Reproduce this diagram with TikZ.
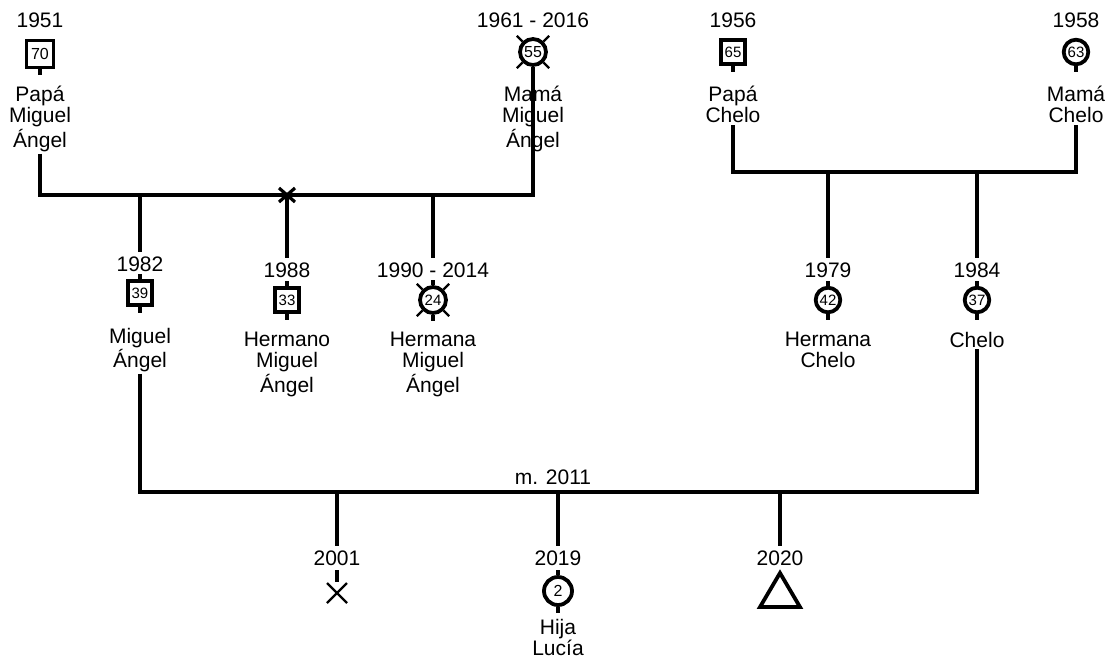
\documentclass[tikz,border=0pt]{standalone}
\usepackage{fontspec}
\setmainfont{Liberation Sans}
\usetikzlibrary{positioning}

\begin{document}
\begin{tikzpicture}[x=0.5pt, y=-0.5pt, line width=1.9pt,
  male/.style={draw, rectangle, fill=white, inner sep=0pt, minimum size=#1, font=\fontsize{7.5}{8}\selectfont},
  male/.default=12.3pt,
  female/.style={draw, circle, fill=white, inner sep=0pt, minimum size=#1, font=\fontsize{7.5}{8}\selectfont},
  female/.default=12.3pt,
  year/.style={font=\fontsize{10.5}{12}\selectfont, inner sep=1.5pt},
  who/.style={anchor=north, align=center, inner sep=0pt, font=\fontsize{10.5}{10.8}\selectfont},
  dead/.style={line width=1.1pt}]

  \useasboundingbox (0,0) rectangle (1109,666);

  % familia de Miguel Angel
  \node[year] (pmaY) at (40,20) {1951};
  \node[male=13.5pt, font=\fontsize{8}{9}\selectfont] (pma) at (40,54) {70};
  \node[who] (pmaN) at (40,84) {Papá\\Miguel\\Ángel};

  \node[year] (mmaY) at (533,20) {1961 - 2016};
  \node[female=13pt, font=\fontsize{8}{9}\selectfont] (mma) at (533,52) {55};

  \coordinate (b1) at (287,195);
  \draw (pmaN.south) -- (pmaN.south |- b1) -- (mma |- b1) -- (mma.south);
  \node[who] (mmaN) at (533,84) {Mamá\\Miguel\\Ángel};
  \draw[line width=1.6pt] (b1) ++(-8,-7) -- ++(16,14) (b1) ++(8,-7) -- ++(-16,14);

  \node[year] (migY) at (140,264) {1982};
  \node[male] (mig) at (140,293) {39};
  \node[who] (migN) at (140,326) {Miguel\\Ángel};
  \draw (migY |- b1) -- (migY.north);

  \node[year] (herY) at (287,270) {1988};
  \node[male] (her) at (287,300) {33};
  \node[who] (herN) at (287,330) {Hermano\\Miguel\\Ángel};
  \draw (b1) -- (herY.north);

  \node[year] (hnaY) at (433,270) {1990 - 2014};
  \node[female=13pt] (hna) at (433,300) {24};
  \node[who] (hnaN) at (433,330) {Hermana\\Miguel\\Ángel};
  \draw (hnaY |- b1) -- (hnaY.north);

  % familia de Chelo
  \node[year] (pchY) at (733,20) {1956};
  \node[male] (pch) at (733,52) {65};
  \node[who] (pchN) at (733,84) {Papá\\Chelo};

  \node[year] (mchY) at (1076,20) {1958};
  \node[female] (mch) at (1076,52) {63};
  \node[who] (mchN) at (1076,84) {Mamá\\Chelo};

  \coordinate (b2) at (828,172);
  \draw (pchN.south) -- (pchN.south |- b2) -- (mchN.south |- b2) -- (mchN.south);

  \node[year] (hchY) at (828,270) {1979};
  \node[female] (hch) at (828,300) {42};
  \node[who] (hchN) at (828,330) {Hermana\\Chelo};
  \draw (b2) -- (hchY.north);

  \node[year] (cheY) at (977,270) {1984};
  \node[female] (che) at (977,300) {37};
  \node[who] (cheN) at (977,330) {Chelo};
  \draw (cheY |- b2) -- (cheY.north);

  % matrimonio e hijos
  \coordinate (b3) at (558,492);
  \draw (migN.south) -- (migN.south |- b3) -- (cheN.south |- b3) -- (cheN.south);
  \node[year, anchor=base] (mar) at (553,484) {m. 2011};

  \node[year] (losY) at (337,558) {2001};
  \draw (losY |- b3) -- (losY.north);
  \coordinate (los) at (337,593);
  \draw (losY.south) -- ++(0,12);
  \draw[dead] (los) ++(-10,-10) -- ++(20,20) (los) ++(10,-10) -- ++(-20,20);

  \node[year] (lucY) at (558,558) {2019};
  \draw (b3) -- (lucY.north);
  \node[female=14pt, font=\fontsize{8}{9}\selectfont] (luc) at (558,591) {2};
  \node[who] (lucN) at (558,617) {Hija\\Lucía};

  \node[year] (triY) at (780,558) {2020};
  \draw (triY |- b3) -- (triY.north);
  \coordinate (tri) at (780,590);
  \draw[line join=miter] (tri) ++(0,-17) -- ++(20,34) -- ++(-40,0) -- cycle;

  % marcas
  \foreach \p in {pma,pch,mch,mig,her,hna,hch,che,luc}
    \draw (\p.south) -- ++(0,6);
  \foreach \p in {mig,her,hna,hch,che,luc}
    \draw (\p.north) -- ++(0,-5);
  \foreach \p in {mma,hna}
    \foreach \a in {45,135,225,315}
      \draw[dead] (\p.\a) -- ++(\a:4pt);
\end{tikzpicture}
\end{document}
